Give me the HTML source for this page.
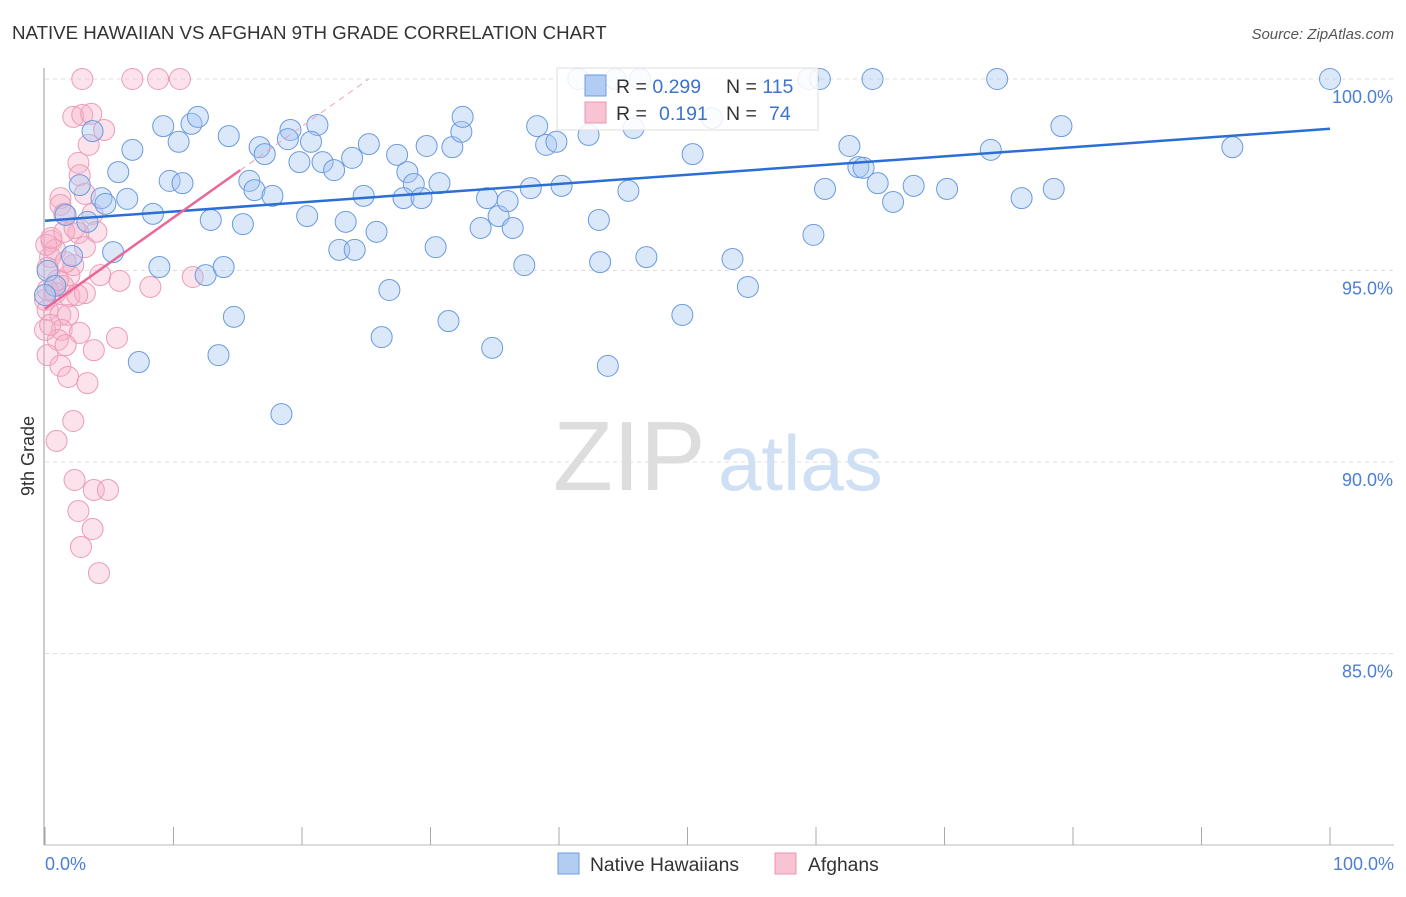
<!DOCTYPE html>
<html><head><meta charset="utf-8"><style>
body{margin:0;background:#fff;font-family:"Liberation Sans",sans-serif}
svg text{font-family:"Liberation Sans",sans-serif}
</style></head><body>
<svg id="c" width="1406" height="892" xmlns="http://www.w3.org/2000/svg">
<text x="12" y="39" font-size="18.7" fill="#333">NATIVE HAWAIIAN VS AFGHAN 9TH GRADE CORRELATION CHART</text>
<text x="1394" y="39" font-size="15" fill="#555" font-style="italic" text-anchor="end">Source: ZipAtlas.com</text>
<text x="553" y="490" font-size="98" fill="#ddd" font-family="Liberation Serif">ZIP</text>
<text x="718" y="490" font-size="78" fill="#cfe0f5">atlas</text>
<g id="grid"></g><g id="axes"></g><g id="pts"></g><g id="lines"></g>
<text transform="translate(34,456) rotate(-90)" font-size="18" fill="#333" text-anchor="middle">9th Grade</text>
<text x="45" y="870" font-size="18" fill="#4a7fd4">0.0%</text>
<text x="1394" y="870" font-size="18" fill="#4a7fd4" text-anchor="end">100.0%</text>
<g>
<rect x="557" y="68" width="261" height="62" fill="#fff" fill-opacity="0.85" stroke="#ddd"/>
<rect x="585" y="75" width="21" height="21" fill="#b3cdf2" stroke="#6d9be0"/>
<rect x="585" y="102" width="21" height="21" fill="#f8c3d3" stroke="#e897b2"/>
<text x="616" y="93" font-size="19.5" fill="#333">R = <tspan fill="#3b73d1">0.299</tspan></text>
<text x="726" y="93" font-size="19.5" fill="#333">N = <tspan fill="#3b73d1">115</tspan></text>
<text x="616" y="120" font-size="19.5" fill="#333">R = </text><text x="659" y="120" font-size="19.5" fill="#3b73d1">0.191</text>
<text x="726" y="120" font-size="19.5" fill="#333">N = </text><text x="769" y="120" font-size="19.5" fill="#3b73d1">74</text>
</g>
<g>
<rect x="558" y="853" width="21" height="21" fill="#b3cdf2" stroke="#6d9be0"/>
<text x="590" y="871" font-size="19.3" fill="#333">Native Hawaiians</text>
<rect x="775" y="853" width="21" height="21" fill="#f8c3d3" stroke="#e897b2"/>
<text x="808" y="871" font-size="19.3" fill="#333">Afghans</text>
</g>
</svg>
<script>
const yTicks=[100,95,90,85];
const yTickLabels=["100.0%","95.0%","90.0%","85.0%"];
const xTicks=[0,10,20,30,40,50,60,70,80,90,100];
const blueX=[41.5,44.4,46.3,59.4,60.3,64.4,74.1,100,3.7,9.2,11.4,11.9,14.3,10.4,6.8,16.7,17.1,19.1,18.9,21.2,20.7,19.8,21.6,22.5,23.9,25.2,27.4,28.2,28.7,27.9,29.3,29.7,30.7,31.7,32.4,32.5,38.3,39.0,39.8,37.8,40.2,42.3,45.8,45.4,50.4,51.9,62.6,63.3,63.7,64.8,66.0,67.6,70.2,73.6,76.0,78.5,79.1,92.4,2.7,4.4,4.7,6.4,5.7,1.6,3.3,8.4,9.7,10.7,12.9,15.4,15.9,16.3,17.7,20.4,23.4,24.8,25.8,22.9,24.1,30.4,33.9,34.4,35.3,36.0,36.4,37.3,43.1,43.2,46.8,53.5,59.8,60.7,0.2,2.1,5.3,8.9,12.5,13.9,14.7,26.8,31.4,26.2,34.8,43.8,49.6,54.7,13.5,7.3,18.4,0.8,0];
const blueY=[100,100,100,100,100,100,100,100,98.64,98.77,98.83,99.01,98.51,98.36,98.15,98.22,98.04,98.67,98.43,98.80,98.36,97.83,97.83,97.62,97.94,98.30,98.02,97.57,97.26,96.89,96.89,98.25,97.28,98.22,98.62,99.01,98.77,98.28,98.36,97.15,97.21,98.54,98.72,97.08,98.04,98.98,98.25,97.70,97.68,97.28,96.79,97.21,97.13,98.15,96.89,97.13,98.77,98.22,97.23,96.89,96.74,96.87,97.57,96.45,96.27,96.48,97.34,97.28,96.32,96.21,97.34,97.10,96.95,96.42,96.27,96.95,96.01,95.54,95.54,95.61,96.11,96.89,96.42,96.81,96.11,95.14,96.32,95.22,95.35,95.30,95.93,97.13,94.99,95.38,95.48,95.09,94.88,95.09,93.79,94.49,93.68,93.26,92.98,92.51,93.84,94.57,92.79,92.61,91.25,94.60,94.36];
const pinkX=[2.9,6.8,8.8,10.5,2.2,2.9,3.6,4.6,3.4,2.6,2.7,1.2,1.2,3.1,1.5,3.7,4.0,2.6,3.1,0.5,0.8,0.4,0.2,1.9,2.2,4.3,5.8,8.2,11.5,1.4,0.8,0,0.2,1.9,3.1,1.2,1.8,1.3,2.7,1.0,1.6,0.2,3.8,5.6,1.2,1.8,3.3,2.2,0.9,2.3,3.8,4.9,2.6,3.7,2.8,4.2,0,0.4,0.2,1.0,1.6,2.5,0.1,0.5,1.5,2.3];
const pinkY=[100,100,100,100,99.01,99.06,99.09,98.67,98.28,97.81,97.49,96.89,96.71,97.00,96.48,96.48,96.01,95.98,95.61,95.77,95.54,95.35,95.07,94.88,95.14,94.88,94.73,94.57,94.83,94.60,94.41,94.23,93.97,94.33,94.41,93.84,93.84,93.45,93.37,93.19,93.05,92.79,92.92,93.24,92.51,92.22,92.06,91.07,90.55,89.53,89.27,89.27,88.72,88.25,87.78,87.10,93.45,93.58,94.49,94.75,95.22,94.36,95.67,95.85,96.01,96.11];
const blueTrend=[96.3,98.7];
const pinkTrend=[94.0,97.62,15.2];
const NS='http://www.w3.org/2000/svg';
const X=v=>45+v*12.85, Y=v=>79+(100-v)*38.3;
function mk(t,a,p){const e=document.createElementNS(NS,t);for(const k in a)e.setAttribute(k,a[k]);document.getElementById(p).appendChild(e);return e;}
yTicks.forEach((t,i)=>{
 const g=mk('line',{x1:45,x2:1394,y1:Y(t),y2:Y(t),stroke:'#ddd','stroke-dasharray':'4,4'},'grid');
 
 
 const l=mk('text',{x:1393,y:Y(t)+24,'font-size':18,fill:'#4a7fd4','text-anchor':'end'},'grid');
 l.textContent=yTickLabels[i];
 
 
});
const ax=mk('line',{x1:44,x2:44,y1:68,y2:845,stroke:'#999'},'axes');


const bx=mk('line',{x1:44,x2:1394,y1:845,y2:845,stroke:'#bbb'},'axes');


xTicks.forEach(t=>{const e=mk('line',{x1:X(t),x2:X(t),y1:827,y2:845,stroke:'#aaa'},'axes');
 
 });
pinkX.forEach((x,i)=>{const c=mk('circle',{cx:X(x),cy:Y(pinkY[i]),r:10.5,fill:'rgba(245,175,198,0.35)',stroke:'#ec9ab8','stroke-width':1},'pts');
 
 });
blueX.forEach((x,i)=>{const c=mk('circle',{cx:X(x),cy:Y(blueY[i]),r:10.5,fill:'rgba(165,198,242,0.4)',stroke:'#6a9ade','stroke-width':1},'pts');
 
 });
const bl=mk('line',{x1:X(0),y1:Y(blueTrend[0]),x2:X(100),y2:Y(blueTrend[1]),stroke:'#2b6fd6','stroke-width':2.5},'lines');


const slope=(pinkTrend[1]-pinkTrend[0])/pinkTrend[2];
const pl=mk('line',{x1:X(0),y1:Y(pinkTrend[0]),x2:X(pinkTrend[2]),y2:Y(pinkTrend[1]),stroke:'#e8689a','stroke-width':2.5},'lines');


const xe=(100-pinkTrend[0])/slope;
const pd=mk('line',{x1:X(pinkTrend[2]),y1:Y(pinkTrend[1]),x2:X(xe),y2:Y(100),stroke:'#f0a0bd','stroke-width':1,'stroke-dasharray':'6,5'},'lines');


</script>
</body></html>
